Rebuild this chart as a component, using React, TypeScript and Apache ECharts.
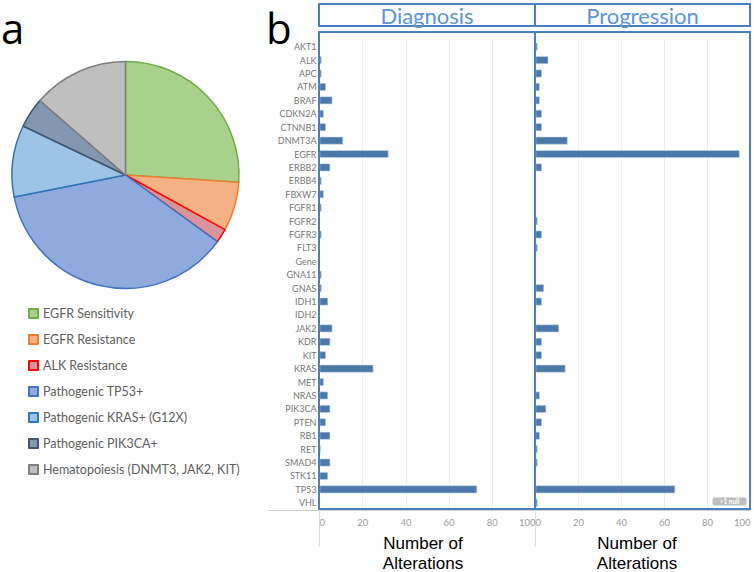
import React, { useEffect, useRef } from "react";
import * as echarts from "echarts";

const pieLabels = [
  "EGFR Sensitivity",
  "EGFR Resistance",
  "ALK Resistance",
  "Pathogenic TP53+",
  "Pathogenic KRAS+ (G12X)",
  "Pathogenic PIK3CA+",
  "Hematopoiesis (DNMT3, JAK2, KIT)",
];
const pieValues = [26.0, 7.0, 2.0, 36.9, 10.2, 4.3, 13.6];
const pieFills = ["#a9d18e", "#f4b183", "#d9959b", "#8faadc", "#9dc3e6", "#8497b0", "#bfbfbf"];
const pieBorders = ["#70ad47", "#ed7d31", "#ff0000", "#4472c4", "#2e75b6", "#44546a", "#7f7f7f"];

const genes = [
  "AKT1", "ALK", "APC", "ATM", "BRAF", "CDKN2A", "CTNNB1", "DNMT3A", "EGFR", "ERBB2",
  "ERBB4", "FBXW7", "FGFR1", "FGFR2", "FGFR3", "FLT3", "Gene", "GNA11", "GNAS", "IDH1",
  "IDH2", "JAK2", "KDR", "KIT", "KRAS", "MET", "NRAS", "PIK3CA", "PTEN", "RB1",
  "RET", "SMAD4", "STK11", "TP53", "VHL",
];
const diagnosisCounts = [
  0, 1, 1, 3, 6, 2, 3, 11, 32, 5,
  1, 2, 1, 0, 1, 0, 0, 1, 1, 4,
  0, 6, 5, 3, 25, 2, 4, 5, 3, 5,
  0.6, 5, 4, 73, 0,
];
const progressionCounts = [
  1, 6, 3, 2, 2, 3, 3, 15, 95, 3,
  0, 0, 0, 1, 3, 1, 0, 0, 4, 3,
  0, 11, 3, 3, 14, 0, 2, 5, 3, 2,
  1, 1, 0, 65, 1,
];
const panelTitles = ["Diagnosis", "Progression"];
const axisTitle = "Number of\nAlterations";

const BLUE = "#4a7fc1";
const BAR = "#4a78a9";

export default function App() {
  const ref = useRef<HTMLDivElement>(null);
  useEffect(() => {
    if (!ref.current) return;
    const chart = echarts.init(ref.current, undefined, { renderer: "svg" });
    const g0 = { left: 319.5, top: 40, width: 216, height: 469.5 };
    const g1 = { left: 535.5, top: 40, width: 215, height: 469.5 };
    const xAxisBase = (gi: number) => ({
      type: "value",
      gridIndex: gi,
      min: 0,
      max: 100,
      interval: 20,
      axisLine: { show: false },
      axisTick: { show: false },
      splitLine: { show: true, lineStyle: { color: "#ececec", width: 1 } },
      axisLabel: {
        color: "#a0a0a0",
        fontSize: 9.5,
        fontFamily: "Lato",
        margin: 8,
        alignMinLabel: "left",
        alignMaxLabel: "right",
      },
    });
    const yAxisBase = (gi: number, showLabels: boolean) => ({
      type: "category",
      gridIndex: gi,
      data: genes,
      inverse: true,
      axisLine: { show: false },
      axisTick: { show: false },
      splitLine: { show: false },
      axisLabel: {
        show: showLabels,
        color: "#777777",
        fontSize: 9,
        fontFamily: "Lato",
        margin: 3,
        interval: 0,
      },
    });
    const barSeries = (gi: number, data: number[], name: string) => ({
      type: "bar",
      name,
      xAxisIndex: gi,
      yAxisIndex: gi,
      data,
      barWidth: 8,
      itemStyle: { color: BAR, borderColor: "rgba(200,215,235,0.7)", borderWidth: 0.8 },
      emphasis: { disabled: true },
      silent: true,
    });
    chart.setOption({
      animation: false,
      backgroundColor: "#ffffff",
      legend: {
        orient: "vertical",
        left: 23,
        top: 302,
        itemGap: 13,
        itemWidth: 9,
        itemHeight: 9,
        icon: "rect",
        selectedMode: false,
        data: pieLabels,
        textStyle: { color: "#606060", fontSize: 12.5, fontFamily: "Lato" },
      },
      grid: [
        { ...g0, containLabel: false },
        { ...g1, containLabel: false },
      ],
      xAxis: [xAxisBase(0), xAxisBase(1)],
      yAxis: [yAxisBase(0, true), yAxisBase(1, false)],
      series: [
        {
          type: "pie",
          center: [125.5, 175],
          radius: 113.5,
          startAngle: 90,
          clockwise: true,
          label: { show: false },
          labelLine: { show: false },
          emphasis: { disabled: true },
          silent: true,
          data: pieLabels.map((n, i) => ({
            name: n,
            value: pieValues[i],
            itemStyle: { color: pieFills[i], borderColor: pieBorders[i], borderWidth: 1.5 },
          })),
        },
        barSeries(0, diagnosisCounts, "Diagnosis"),
        barSeries(1, progressionCounts, "Progression"),
      ],
      graphic: [
        { type: "text", left: 1, top: 6, style: { text: "a", fontSize: 42, fontFamily: "Open Sans", fill: "#000" } },
        { type: "text", left: 266, top: 6, style: { text: "b", fontSize: 42, fontFamily: "Open Sans", fill: "#000" } },
        // header boxes
        { type: "rect", shape: { x: 319, y: 4, width: 216, height: 22 }, style: { fill: "none", stroke: BLUE, lineWidth: 2 } },
        { type: "rect", shape: { x: 535, y: 4, width: 215, height: 22 }, style: { fill: "none", stroke: BLUE, lineWidth: 2 } },
        { type: "text", x: 427, y: 15.5, style: { text: panelTitles[0], fontSize: 22, fontFamily: "Lato", fill: "#5b96d8", align: "center", verticalAlign: "middle" } },
        { type: "text", x: 642.5, y: 15.5, style: { text: panelTitles[1], fontSize: 22, fontFamily: "Lato", fill: "#5b96d8", align: "center", verticalAlign: "middle" } },
        // plot boxes
        { type: "rect", z: 10, shape: { x: 319, y: 32, width: 216, height: 477 }, style: { fill: "none", stroke: BLUE, lineWidth: 2 } },
        { type: "rect", z: 10, shape: { x: 535, y: 32, width: 215, height: 477 }, style: { fill: "none", stroke: BLUE, lineWidth: 2 } },
        // gray axis base lines
        { type: "line", shape: { x1: 268, y1: 510.5, x2: 750, y2: 510.5 }, style: { stroke: "#d0d0d0", lineWidth: 1 } },
        { type: "line", shape: { x1: 319.5, y1: 510, x2: 319.5, y2: 547 }, style: { stroke: "#e0e0e0", lineWidth: 1 } },
        { type: "line", shape: { x1: 535.5, y1: 510, x2: 535.5, y2: 547 }, style: { stroke: "#e0e0e0", lineWidth: 1 } },
        // axis titles
        { type: "text", x: 423, y: 553, style: { text: axisTitle, fontSize: 17, lineHeight: 20, fontFamily: "Liberation Sans", fill: "#000", align: "center", verticalAlign: "middle" } },
        { type: "text", x: 637, y: 553, style: { text: axisTitle, fontSize: 17, lineHeight: 20, fontFamily: "Liberation Sans", fill: "#000", align: "center", verticalAlign: "middle" } },
        // null badge
        { type: "rect", z: 11, shape: { x: 712.5, y: 497.5, width: 34, height: 8, r: 2 }, style: { fill: "#bdbdbd" } },
        { type: "text", z: 12, x: 729.5, y: 501.8, style: { text: ">1 null", fontSize: 6.5, fontFamily: "Lato", fontWeight: "bold", fill: "#ffffff", align: "center", verticalAlign: "middle" } },
      ],
    });
    return () => chart.dispose();
  }, []);
  return (
    <div
      ref={ref}
      style={{ position: "fixed", left: 0, top: 0, width: 754, height: 572, background: "#fff" }}
    />
  );
}
